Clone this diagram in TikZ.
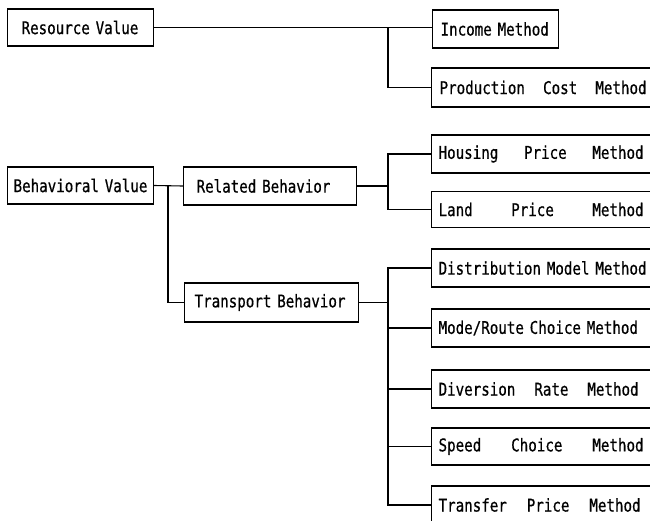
\documentclass[tikz,border=0pt]{standalone}
\usepackage{fontspec}
\newfontfamily\boxfont[FakeStretch=0.81,FakeBold=0.6]{DejaVu Sans Mono}
\begin{document}
\begin{tikzpicture}[x=1pt,y=-1pt,
  box/.style={draw, line width=1.2pt, anchor=west, inner xsep=0pt, inner ysep=0pt,
    align=left, font=\boxfont\fontsize{17.5}{19}\selectfont},
  link/.style={line width=1.1pt}]
\useasboundingbox (0,0) rectangle (650,520);
\clip (0,0) rectangle (650,520);
% left column
\node[box, text width=146pt, minimum height=37pt] (RV) at (7,27.5) {\hspace*{14pt}Resource Value};
\node[box, text width=146pt, minimum height=37pt] (BV) at (7,185.5) {\hspace*{6pt}Behavioral Value};
% middle column
\node[box, text width=173pt, minimum height=38pt] (RB) at (183,186) {\hspace*{13pt}Related Behavior};
\node[box, text width=174pt, minimum height=39pt] (TB) at (184,302.5) {\hspace*{10pt}Transport Behavior};
% right column
\node[box, text width=126pt, minimum height=38pt] (IM) at (432,29) {\hspace*{8pt}Income Method};
\node[box, text width=240pt, minimum height=39pt] (PCM) at (431,87.5) {\hspace*{8pt}\makebox[207pt][l]{Production\hfill Cost\hfill Method}};
\node[box, text width=240pt, minimum height=38pt] (HPM) at (431,154) {\hspace*{7pt}\makebox[205pt][l]{Housing\hfill Price\hfill Method}};
\node[box, text width=240pt, minimum height=36pt] (LPM) at (431,209.5) {\hspace*{7pt}\makebox[205pt][l]{Land\hfill Price\hfill Method}};
\node[box, text width=240pt, minimum height=38pt] (DMM) at (431,268) {\hspace*{7pt}Distribution Model Method};
\node[box, text width=240pt, minimum height=38pt] (MRC) at (431,328) {\hspace*{7pt}Mode/Route Choice Method};
\node[box, text width=240pt, minimum height=38pt] (DRM) at (431,389) {\hspace*{7pt}\makebox[200pt][l]{Diversion\hfill Rate\hfill Method}};
\node[box, text width=240pt, minimum height=37pt] (SCM) at (431,446.5) {\hspace*{7pt}\makebox[205pt][l]{Speed\hfill Choice\hfill Method}};
\node[box, text width=240pt, minimum height=38pt] (TPM) at (431,505) {\hspace*{7pt}\makebox[202pt][l]{Transfer\hfill Price\hfill Method}};
% junctions
\coordinate (j1) at (388,27.5);
\coordinate (j2) at (168,185.5);
\coordinate (j3) at (388,186);
\coordinate (j4) at (388,302.5);
% connectors
\draw[link] (RV.east) -- (RV.east -| IM.west);
\draw[link] (j1) |- (PCM.west);
\draw[link] (BV.east) -- (RB.west);
\draw[link] (j2) |- (TB.west);
\draw[link] (RB.east) -- (j3);
\draw[link] (HPM.west) -| (j3) |- (LPM.west);
\draw[link] (TB.east) -- (j4);
\draw[link] (DMM.west) -| (j4) |- (TPM.west);
\draw[link] (MRC.west -| j4) -- (MRC.west);
\draw[link] (DRM.west -| j4) -- (DRM.west);
\draw[link] (SCM.west -| j4) -- (SCM.west);
\end{tikzpicture}
\end{document}
